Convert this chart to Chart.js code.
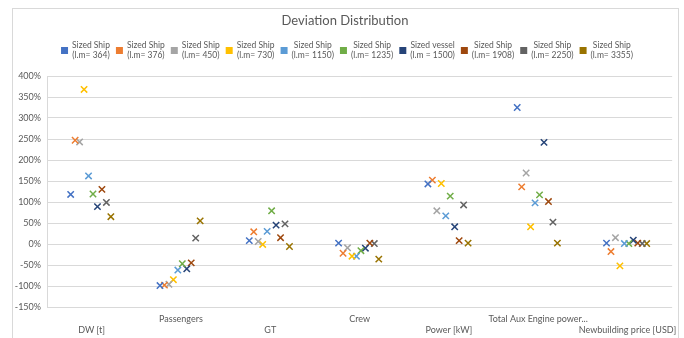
<!DOCTYPE html>
<html>
<head>
<meta charset="utf-8">
<script src="https://cdn.jsdelivr.net/npm/chart.js@4.4.1/dist/chart.umd.min.js"></script>
<style>
  html, body { margin: 0; padding: 0; background: #fff; }
  #wrap { width: 684px; height: 338px; }
</style>
</head>
<body>
<div id="wrap"><canvas id="chart" width="684" height="338"></canvas></div>
<script>
// categories on the x axis
const categories = ['DW [t]', 'Passengers', 'GT', 'Crew', 'Power [kW]', 'Total Aux Engine power...', 'Newbuilding price [USD]'];

// legend text, two lines each
const seriesNames = ['Sized Ship', 'Sized Ship', 'Sized Ship', 'Sized Ship', 'Sized Ship', 'Sized Ship', 'Sized vessel', 'Sized Ship', 'Sized Ship', 'Sized Ship'];
const seriesLm = ['(l.m= 364)', '(l.m= 376)', '(l.m= 450)', '(l.m= 730)', '(l.m= 1150)', '(l.m= 1235)', '(l.m = 1500)', '(l.m= 1908)', '(l.m= 2250)', '(l.m= 3355)'];
const seriesColors = ['#4472C4', '#ED7D31', '#A5A5A5', '#FFC000', '#5B9BD5', '#70AD47', '#264478', '#9E480E', '#636363', '#997300'];

// deviation in % per category
const ship364 = [118, -99, 8, 2, 143, 325, 2];
const ship376 = [247, -98, 29, -22, 152, 136, -18];
const ship450 = [243, -96, 6, -9, 79, 169, 15];
const ship730 = [368, -85, -1, -29, 144, 41, -52];
const ship1150 = [162, -62, 30, -29, 67, 98, 1];
const ship1235 = [119, -47, 79, -16, 114, 117, 1];
const vessel1500 = [89, -59, 45, -10, 41, 242, 9];
const ship1908 = [130, -45, 15, 2, 8, 101, 2];
const ship2250 = [99, 14, 48, 1, 93, 52, 1];
const ship3355 = [65, 55, -6, -36, 2, 2, 1];

const seriesValues = [ship364, ship376, ship450, ship730, ship1150, ship1235, vessel1500, ship1908, ship2250, ship3355];

const FONT = 'Lato, "Open Sans", sans-serif';
const TEXT = '#595959';
const clusterStep = 0.05; // spread of the series inside one category

const datasets = seriesValues.map((vals, s) => ({
  label: seriesNames[s] + ' ' + seriesLm[s],
  data: vals.map((v, i) => ({ x: i + (s - 4.7) * clusterStep, y: v })),
  borderColor: seriesColors[s],
  backgroundColor: seriesColors[s],
  pointStyle: 'crossRot',
  pointRadius: 4.5,
  pointBorderWidth: 1.5,
  showLine: false
}));

// background, outer frame, title and the two-line legend
const framePlugin = {
  id: 'frame',
  beforeDraw(chart) {
    const ctx = chart.ctx;
    ctx.save();
    ctx.fillStyle = '#fff';
    ctx.fillRect(0, 0, chart.width, chart.height);
    ctx.strokeStyle = '#d9d9d9';
    ctx.lineWidth = 1;
    ctx.strokeRect(12.5, 8.5, 666, 340);
    ctx.restore();
  },
  afterDraw(chart) {
    const ctx = chart.ctx;
    ctx.save();
    ctx.fillStyle = TEXT;
    ctx.font = '13px ' + FONT;
    ctx.textAlign = 'center';
    ctx.textBaseline = 'middle';
    ctx.fillText('Deviation Distribution', 345, 21);

    ctx.font = '8.5px ' + FONT;
    const box = 7, boxGap = 4, itemGap = 6;
    const widths = seriesNames.map((n, i) => Math.max(ctx.measureText(n).width, ctx.measureText(seriesLm[i]).width));
    const total = widths.reduce((a, w) => a + box + boxGap + w, 0) + itemGap * (widths.length - 1);
    let x = 347 - total / 2;
    widths.forEach((w, i) => {
      ctx.fillStyle = seriesColors[i];
      ctx.fillRect(x, 47, box, box);
      ctx.fillStyle = TEXT;
      const cx = x + box + boxGap + w / 2;
      ctx.fillText(seriesNames[i], cx, 45);
      ctx.fillText(seriesLm[i], cx, 55.5);
      x += box + boxGap + w + itemGap;
    });
    ctx.restore();
  }
};

new Chart(document.getElementById('chart'), {
  type: 'scatter',
  data: { datasets: datasets },
  plugins: [framePlugin],
  options: {
    responsive: false,
    animation: false,
    layout: { padding: { left: 12, right: 11, top: 76, bottom: 0 } },
    plugins: {
      legend: { display: false },
      title: { display: false },
      tooltip: { enabled: false }
    },
    scales: {
      x: {
        type: 'linear',
        min: -0.5,
        max: 6.5,
        afterBuildTicks: scale => { scale.ticks = categories.map((c, i) => ({ value: i })); },
        afterFit: scale => { scale.height = 31; },
        grid: { display: false, drawTicks: false },
        border: { display: false },
        ticks: {
          autoSkip: false,
          maxRotation: 0,
          padding: 7,
          color: TEXT,
          font: { family: FONT, size: 9, lineHeight: 1.22 },
          callback: v => (v % 2 === 0 ? ['', categories[v]] : [categories[v]])
        }
      },
      y: {
        min: -150,
        max: 400,
        afterFit: scale => { scale.width = 35; },
        grid: { color: '#d9d9d9', drawTicks: false },
        border: { display: true, color: '#d9d9d9' },
        ticks: {
          stepSize: 50,
          padding: 6,
          color: TEXT,
          font: { family: FONT, size: 9 },
          callback: v => v + '%'
        }
      }
    }
  }
});
</script>
</body>
</html>
